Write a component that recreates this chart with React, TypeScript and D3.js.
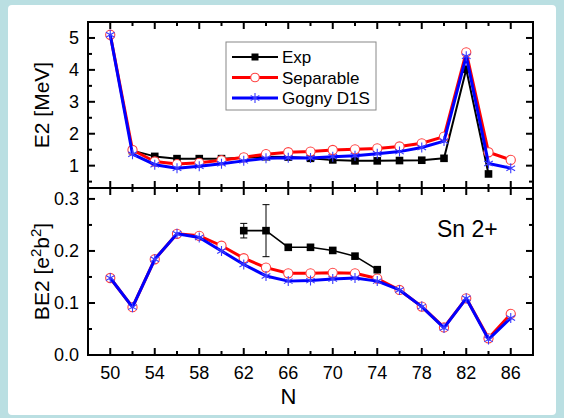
import React from "react";
import * as d3 from "d3";

// neutron numbers
const nAll = [50, 52, 54, 56, 58, 60, 62, 64, 66, 68, 70, 72, 74, 76, 78, 80, 82, 84, 86];
const nExpE2 = [52, 54, 56, 58, 60, 62, 64, 66, 68, 70, 72, 74, 76, 78, 80, 82, 84];
const nExpBE2 = [62, 64, 66, 68, 70, 72, 74];

// E2 [MeV]
const e2Exp = [1.47, 1.29, 1.22, 1.22, 1.22, 1.25, 1.28, 1.27, 1.23, 1.18, 1.15, 1.15, 1.16, 1.17, 1.23, 4.02, 0.74];
const e2Sep = [5.1, 1.49, 1.13, 1.05, 1.09, 1.17, 1.26, 1.36, 1.42, 1.44, 1.49, 1.51, 1.54, 1.6, 1.7, 1.91, 4.55, 1.42, 1.18];
const e2Gogny = [5.1, 1.36, 1.03, 0.92, 0.98, 1.06, 1.15, 1.23, 1.25, 1.24, 1.28, 1.31, 1.37, 1.44, 1.57, 1.77, 4.43, 1.07, 0.92];

// BE2 [e2b2]
const be2Exp = [0.239, 0.239, 0.207, 0.207, 0.201, 0.19, 0.164];
const be2ExpErr = [0.014, 0.05, 0, 0, 0, 0, 0];
const be2Sep = [0.148, 0.092, 0.184, 0.233, 0.229, 0.21, 0.186, 0.168, 0.157, 0.157, 0.158, 0.157, 0.147, 0.125, 0.093, 0.053, 0.109, 0.032, 0.079];
const be2Gogny = [0.148, 0.092, 0.184, 0.233, 0.226, 0.2, 0.174, 0.152, 0.142, 0.143, 0.146, 0.148, 0.142, 0.125, 0.093, 0.052, 0.109, 0.03, 0.071];

// ticks
const xMajor = [50, 54, 58, 62, 66, 70, 74, 78, 82, 86];
const xMinor = [52, 56, 60, 64, 68, 72, 76, 80, 84];
const e2Major = [1, 2, 3, 4, 5];
const e2Minor = [0.5, 1.5, 2.5, 3.5, 4.5];
const be2Major = [0, 0.1, 0.2, 0.3];
const be2Minor = [0.05, 0.15, 0.25];

const legendItems = ["Exp", "Separable", "Gogny D1S"];

const W = 564;
const H = 418;
const L = 88, R = 533, T = 22, M = 188, B = 355;
const font = "Liberation Sans, Arial, sans-serif";

const x = d3.scaleLinear().domain([48, 88]).range([L, R]);
const yTop = d3.scaleLinear().domain([0.3, 5.5]).range([M, T]);
const yBot = d3.scaleLinear().domain([0, 0.321]).range([B, M]);

function star(cx: number, cy: number, r: number) {
  const dx = r * Math.cos(Math.PI / 6);
  const dy = r * Math.sin(Math.PI / 6);
  return `M${cx},${cy - r}L${cx},${cy + r}M${cx - dx},${cy - dy}L${cx + dx},${cy + dy}M${cx - dx},${cy + dy}L${cx + dx},${cy - dy}`;
}

function Series({ xs, ys, y, kind, width }: { xs: number[]; ys: number[]; y: d3.ScaleLinear<number, number>; kind: string; width: number }) {
  const pts = xs.map((n, i) => [x(n), y(ys[i])] as [number, number]);
  const line = d3.line()(pts) || "";
  const color = kind === "exp" ? "#000" : kind === "sep" ? "#ff0000" : "#0000ff";
  return (
    <g>
      <path d={line} fill="none" stroke={color} strokeWidth={width} strokeLinejoin="round" />
      {pts.map(([px, py], i) =>
        kind === "exp" ? (
          <rect key={i} x={px - 3.8} y={py - 3.8} width={7.6} height={7.6} fill="#000" />
        ) : kind === "sep" ? (
          <circle key={i} cx={px} cy={py} r={4.6} fill="#fff" stroke="#ff4040" strokeWidth={1.1} />
        ) : (
          <path key={i} d={star(px, py, 5)} stroke="#3a3aff" strokeWidth={1.1} />
        )
      )}
    </g>
  );
}

function Ticks({ y, major, minor, top, bottom }: { y: d3.ScaleLinear<number, number>; major: number[]; minor: number[]; top: number; bottom: number }) {
  const tk: JSX.Element[] = [];
  xMajor.forEach((n) => {
    tk.push(<line key={"tm" + n} x1={x(n)} x2={x(n)} y1={top} y2={top + 7} />);
    tk.push(<line key={"bm" + n} x1={x(n)} x2={x(n)} y1={bottom} y2={bottom - 7} />);
  });
  xMinor.forEach((n) => {
    tk.push(<line key={"tn" + n} x1={x(n)} x2={x(n)} y1={top} y2={top + 4} />);
    tk.push(<line key={"bn" + n} x1={x(n)} x2={x(n)} y1={bottom} y2={bottom - 4} />);
  });
  major.forEach((v) => {
    tk.push(<line key={"lm" + v} x1={L} x2={L + 7} y1={y(v)} y2={y(v)} />);
    tk.push(<line key={"rm" + v} x1={R} x2={R - 7} y1={y(v)} y2={y(v)} />);
  });
  minor.forEach((v) => {
    tk.push(<line key={"ln" + v} x1={L} x2={L + 4} y1={y(v)} y2={y(v)} />);
    tk.push(<line key={"rn" + v} x1={R} x2={R - 4} y1={y(v)} y2={y(v)} />);
  });
  return <g stroke="#000" strokeWidth={2}>{tk}</g>;
}

export default function App() {
  const errBars = nExpBE2.map((n, i) => {
    const e = be2ExpErr[i];
    if (!e) return null;
    const px = x(n);
    const y1 = yBot(be2Exp[i] + e);
    const y2 = yBot(be2Exp[i] - e);
    return (
      <g key={n} stroke="#000" strokeWidth={1}>
        <line x1={px} x2={px} y1={y1} y2={y2} />
        <line x1={px - 3.5} x2={px + 3.5} y1={y1} y2={y1} />
        <line x1={px - 3.5} x2={px + 3.5} y1={y2} y2={y2} />
      </g>
    );
  });

  return (
    <svg width={W} height={H} style={{ position: "absolute", left: 0, top: 0 }} fontFamily={font}>
      <rect x={0} y={0} width={W} height={H} fill="#badfe2" />
      <rect x={8} y={5} width={W - 16} height={H - 8} rx={4} fill="#fff" />

      {/* top panel */}
      <Series xs={nExpE2} ys={e2Exp} y={yTop} kind="exp" width={2} />
      <Series xs={nAll} ys={e2Sep} y={yTop} kind="sep" width={3} />
      <Series xs={nAll} ys={e2Gogny} y={yTop} kind="gog" width={3} />

      {/* bottom panel */}
      <Series xs={nAll} ys={be2Sep} y={yBot} kind="sep" width={3} />
      <Series xs={nAll} ys={be2Gogny} y={yBot} kind="gog" width={3} />
      {errBars}
      <Series xs={nExpBE2} ys={be2Exp} y={yBot} kind="exp" width={1.6} />

      {/* frames */}
      <rect x={L} y={T} width={R - L} height={B - T} fill="none" stroke="#000" strokeWidth={2} />
      <line x1={L} x2={R} y1={M} y2={M} stroke="#000" strokeWidth={2} />
      <Ticks y={yTop} major={e2Major} minor={e2Minor} top={T} bottom={M} />
      <Ticks y={yBot} major={be2Major} minor={be2Minor} top={M} bottom={B} />

      {/* tick labels */}
      <g fontSize={18} fill="#000">
        {e2Major.map((v) => (
          <text key={v} x={L - 9} y={yTop(v) + 6} textAnchor="end">{v}</text>
        ))}
        {be2Major.map((v) => (
          <text key={v} x={L - 9} y={yBot(v) + 6} textAnchor="end">{d3.format(".1f")(v)}</text>
        ))}
        {xMajor.map((n) => (
          <text key={n} x={x(n)} y={379} textAnchor="middle">{n}</text>
        ))}
      </g>

      {/* axis titles */}
      <text x={(L + R) / 2 - 22} y={404} fontSize={22} textAnchor="middle">N</text>
      <text transform={`translate(49,${(T + M) / 2}) rotate(-90)`} fontSize={21} textAnchor="middle">E2 [MeV]</text>
      <text transform={`translate(49,${(M + B) / 2}) rotate(-90)`} fontSize={21} textAnchor="middle">
        BE2 [e<tspan fontSize={15} dy={-8}>2</tspan><tspan dy={8}>b</tspan><tspan fontSize={15} dy={-8}>2</tspan><tspan dy={8}>]</tspan>
      </text>

      <text x={437} y={237} fontSize={23}>Sn 2+</text>

      {/* legend */}
      <rect x={226} y={42} width={150} height={68} fill="#fff" stroke="#888" strokeWidth={1} />
      {legendItems.map((lab, i) => {
        const ly = 57 + i * 20.5;
        const color = i === 0 ? "#000" : i === 1 ? "#ff0000" : "#0000ff";
        return (
          <g key={lab}>
            <line x1={232} x2={278} y1={ly} y2={ly} stroke={color} strokeWidth={i === 0 ? 2 : 3} />
            {i === 0 && <rect x={251.5} y={ly - 3.5} width={7} height={7} fill="#000" />}
            {i === 1 && <circle cx={255} cy={ly} r={4.3} fill="#fff" stroke="#ff4040" strokeWidth={1.1} />}
            {i === 2 && <path d={star(255, ly, 5)} stroke="#3a3aff" strokeWidth={1.1} />}
            <text x={282} y={ly + 6} fontSize={17}>{lab}</text>
          </g>
        );
      })}
    </svg>
  );
}
